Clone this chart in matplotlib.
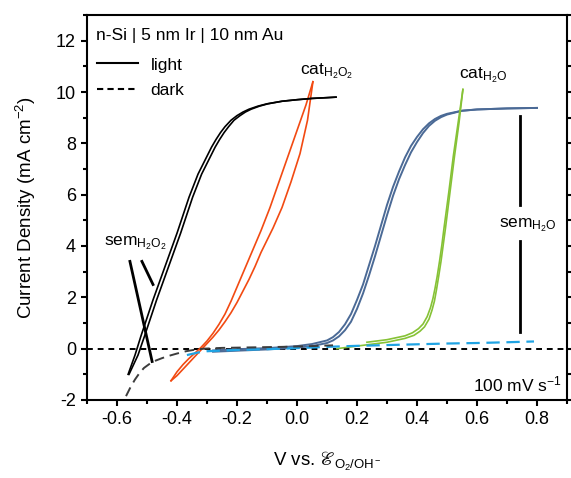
import numpy as np
import matplotlib
matplotlib.use("Agg")
import matplotlib.pyplot as plt

plt.rcParams["font.family"] = ["Liberation Sans", "DejaVu Sans"]
plt.rcParams["mathtext.fontset"] = "custom"
plt.rcParams["mathtext.rm"] = "Liberation Sans"
plt.rcParams["mathtext.it"] = "Liberation Sans:italic"
plt.rcParams["mathtext.bf"] = "Liberation Sans:bold"
plt.rcParams["mathtext.fallback"] = "stix"
plt.rcParams["axes.unicode_minus"] = False

# light, H2O2 (black, two sweep branches)
h2o2_light_fwd_x = [-0.563, -0.54, -0.52, -0.50, -0.48, -0.46, -0.44, -0.42, -0.40, -0.38,
                    -0.36, -0.345, -0.33, -0.315, -0.30, -0.285, -0.27, -0.255, -0.24, -0.22,
                    -0.20, -0.18, -0.16, -0.13, -0.10, -0.05, 0.00, 0.05, 0.10, 0.13]
h2o2_light_fwd_y = [-1.0, -0.25, 0.5, 1.2, 1.9, 2.55, 3.2, 3.85, 4.5, 5.2,
                    5.9, 6.35, 6.8, 7.15, 7.5, 7.85, 8.15, 8.42, 8.65, 8.9,
                    9.08, 9.22, 9.33, 9.45, 9.54, 9.64, 9.7, 9.75, 9.78, 9.8]
h2o2_light_rev_x = [-0.56, -0.53, -0.508, -0.488, -0.468, -0.448, -0.428, -0.408, -0.388, -0.368,
                    -0.348, -0.333, -0.318, -0.303, -0.288, -0.273, -0.258, -0.243, -0.228, -0.21,
                    -0.19, -0.172, -0.153, -0.125, -0.097, -0.05, 0.00, 0.05, 0.10, 0.13]
h2o2_light_rev_y = [-1.0, -0.25, 0.5, 1.2, 1.9, 2.55, 3.2, 3.85, 4.5, 5.2,
                    5.9, 6.35, 6.8, 7.15, 7.5, 7.85, 8.15, 8.42, 8.65, 8.9,
                    9.08, 9.22, 9.33, 9.45, 9.54, 9.64, 9.7, 9.75, 9.78, 9.8]

# dark, H2O2 (grey dashed)
h2o2_dark_x = [-0.57, -0.555, -0.54, -0.525, -0.51, -0.49, -0.47, -0.45, -0.43, -0.40,
               -0.37, -0.34, -0.31, -0.25, -0.15, -0.05, 0.05, 0.12]
h2o2_dark_y = [-1.85, -1.5, -1.2, -0.95, -0.75, -0.58, -0.46, -0.37, -0.29, -0.19,
               -0.1, -0.04, 0.0, 0.03, 0.05, 0.07, 0.1, 0.13]

# cat H2O2 (orange loop)
cat_h2o2_a_x = [-0.42, -0.40, -0.38, -0.36, -0.34, -0.32, -0.30, -0.28, -0.26, -0.24,
                -0.22, -0.20, -0.18, -0.16, -0.14, -0.12, -0.09, -0.06, -0.03, 0.00,
                0.03, 0.053]
cat_h2o2_a_y = [-1.25, -0.9, -0.62, -0.38, -0.17, 0.05, 0.3, 0.6, 0.95, 1.35,
                1.85, 2.4, 2.95, 3.5, 4.05, 4.6, 5.5, 6.5, 7.5, 8.5,
                9.5, 10.4]
cat_h2o2_b_x = [-0.42, -0.40, -0.38, -0.36, -0.34, -0.32, -0.30, -0.28, -0.26, -0.24,
                -0.22, -0.20, -0.18, -0.16, -0.14, -0.12, -0.08, -0.05, -0.02, 0.01,
                0.035, 0.053]
cat_h2o2_b_y = [-1.25, -1.05, -0.8, -0.55, -0.3, -0.05, 0.2, 0.45, 0.73, 1.05,
                1.4, 1.8, 2.25, 2.7, 3.2, 3.75, 4.7, 5.5, 6.5, 7.6,
                8.9, 10.4]

# light, H2O (blue, two sweep branches)
h2o_light_fwd_x = [-0.28, -0.20, -0.10, 0.00, 0.05, 0.10, 0.12, 0.14, 0.16, 0.18,
                   0.20, 0.22, 0.24, 0.26, 0.28, 0.30, 0.32, 0.34, 0.36, 0.38,
                   0.40, 0.42, 0.44, 0.46, 0.48, 0.50, 0.55, 0.60, 0.70, 0.80]
h2o_light_fwd_y = [-0.07, -0.02, 0.02, 0.1, 0.18, 0.32, 0.45, 0.65, 0.95, 1.35,
                   1.9, 2.5, 3.25, 4.0, 4.8, 5.6, 6.3, 6.9, 7.45, 7.9,
                   8.25, 8.55, 8.78, 8.95, 9.07, 9.15, 9.27, 9.32, 9.36, 9.38]
h2o_light_rev_x = [-0.28, -0.20, -0.10, 0.00, 0.05, 0.10, 0.12, 0.14, 0.16, 0.18,
                   0.20, 0.22, 0.24, 0.26, 0.28, 0.30, 0.32, 0.34, 0.36, 0.38,
                   0.40, 0.42, 0.44, 0.46, 0.48, 0.50, 0.55, 0.60, 0.70, 0.80]
h2o_light_rev_y = [-0.12, -0.08, -0.03, 0.04, 0.1, 0.22, 0.32, 0.48, 0.72, 1.05,
                   1.55, 2.15, 2.85, 3.6, 4.4, 5.2, 5.95, 6.6, 7.15, 7.65,
                   8.05, 8.4, 8.68, 8.88, 9.02, 9.12, 9.27, 9.32, 9.36, 9.38]

# dark, H2O (light blue dashed)
h2o_dark_x = [-0.367, -0.33, -0.30, -0.20, -0.10, 0.00, 0.10, 0.20, 0.30, 0.40,
              0.50, 0.60, 0.70, 0.79]
h2o_dark_y = [-0.25, -0.15, -0.1, -0.05, -0.02, 0.02, 0.07, 0.11, 0.14, 0.17,
              0.2, 0.22, 0.25, 0.28]

# cat H2O (green, two branches)
cat_h2o_a_x = [0.133, 0.20, 0.30, 0.36, 0.39, 0.41, 0.425, 0.44, 0.45, 0.458,
               0.465, 0.472, 0.48, 0.4875, 0.495, 0.51, 0.525, 0.54, 0.553]
cat_h2o_a_y = [0.0, 0.1, 0.25, 0.4, 0.52, 0.68, 0.85, 1.15, 1.5, 1.85,
               2.3, 2.8, 3.4, 4.05, 4.7, 6.1, 7.5, 8.8, 10.1]
cat_h2o_b_x = [0.233, 0.30, 0.36, 0.385, 0.405, 0.42, 0.434, 0.445, 0.453,
               0.46, 0.467, 0.475, 0.483, 0.49, 0.506, 0.521, 0.537, 0.553]
cat_h2o_b_y = [0.25, 0.35, 0.5, 0.62, 0.78, 0.96, 1.25, 1.6, 1.95,
               2.35, 2.8, 3.4, 4.05, 4.7, 6.1, 7.5, 8.8, 10.1]

# annotation segments
sem_h2o2_long_x, sem_h2o2_long_y = [-0.557, -0.483], [3.4, -0.5]
sem_h2o2_short_x, sem_h2o2_short_y = [-0.517, -0.48], [3.4, 2.5]
sem_h2o_x = 0.743
sem_h2o_upper_y = [9.07, 5.6]
sem_h2o_lower_y = [4.2, 0.66]

BLACK = "#000000"
ORANGE = "#f24a12"
BLUE = "#4b6a96"
GREEN = "#86c236"
LBLUE = "#1fa3e3"
GREY = "#3c3c3c"

fig = plt.figure(figsize=(5.71, 4.78), dpi=100)
ax = fig.add_axes([0.1524, 0.1632, 0.8406, 0.8054])

ax.axhline(0, color="black", lw=1.4, ls=(0, (3, 2.5)), zorder=1)

ax.plot(h2o_dark_x, h2o_dark_y, color=LBLUE, lw=1.6, ls=(0, (6, 3)), zorder=3)
ax.plot(h2o_light_fwd_x, h2o_light_fwd_y, color=BLUE, lw=1.4, zorder=2)
ax.plot(h2o_light_rev_x, h2o_light_rev_y, color=BLUE, lw=1.4, zorder=2)
ax.plot(cat_h2o_a_x, cat_h2o_a_y, color=GREEN, lw=1.2, zorder=2)
ax.plot(cat_h2o_b_x, cat_h2o_b_y, color=GREEN, lw=1.2, zorder=2)
ax.plot(h2o2_dark_x, h2o2_dark_y, color=GREY, lw=1.4, ls=(0, (5, 3)), zorder=3)
ax.plot(cat_h2o2_a_x, cat_h2o2_a_y, color=ORANGE, lw=1.2, zorder=2)
ax.plot(cat_h2o2_b_x, cat_h2o2_b_y, color=ORANGE, lw=1.2, zorder=2)
ax.plot(h2o2_light_fwd_x, h2o2_light_fwd_y, color=BLACK, lw=1.2, zorder=2)
ax.plot(h2o2_light_rev_x, h2o2_light_rev_y, color=BLACK, lw=1.2, zorder=2)

# sem markers
ax.plot(sem_h2o2_long_x, sem_h2o2_long_y, color="black", lw=2)
ax.plot(sem_h2o2_short_x, sem_h2o2_short_y, color="black", lw=2)
ax.plot([sem_h2o_x] * 2, sem_h2o_upper_y, color="black", lw=2)
ax.plot([sem_h2o_x] * 2, sem_h2o_lower_y, color="black", lw=2)

fs = 12.5
ax.text(0.1, 10.8, r"cat$_{\mathrm{H_2O_2}}$", fontsize=fs, ha="center", va="center")
ax.text(0.62, 10.65, r"cat$_{\mathrm{H_2O}}$", fontsize=fs, ha="center", va="center")
ax.text(-0.54, 4.1, r"sem$_{\mathrm{H_2O_2}}$", fontsize=fs, ha="center", va="center")
ax.text(0.77, 4.8, r"sem$_{\mathrm{H_2O}}$", fontsize=fs, ha="center", va="center")
ax.text(0.019, 0.948, "n-Si | 5 nm Ir | 10 nm Au", transform=ax.transAxes,
        fontsize=fs, ha="left", va="center")
ax.text(0.99, 0.04, r"100 mV s$^{-1}$", transform=ax.transAxes,
        fontsize=fs, ha="right", va="center")

# legend
ax.plot([], [], color="black", lw=1.5, label="light")
ax.plot([], [], color="black", lw=1.5, ls=(0, (3, 2)), label="dark")
ax.legend(loc="upper left", bbox_to_anchor=(0.02, 0.89), frameon=False, fontsize=fs,
          handlelength=2.4, handletextpad=0.7, labelspacing=0.62, borderpad=0,
          borderaxespad=0)

ax.set_xlim(-0.7, 0.9)
ax.set_ylim(-2, 13)
xt = np.arange(-0.6, 0.81, 0.2)
ax.set_xticks(xt)
ax.set_xticks(np.arange(-0.7, 0.91, 0.1), minor=True)
ax.set_yticks(np.arange(-2, 12.1, 2))
ax.set_yticks(np.arange(-2, 13.1, 1), minor=True)
ax.set_xticklabels([f"{v:.1f}" for v in xt])
ax.tick_params(which="both", direction="out", width=1.5, labelsize=13,
               top=False, right=True)
ax.tick_params(which="major", length=4.5)
ax.tick_params(which="minor", length=3)
for s in ax.spines.values():
    s.set_linewidth(1.5)

ax.set_xlabel(r"V vs. $\mathrm{ℰ}_{\mathrm{O_2/OH^-}}$", fontsize=13.5, labelpad=16)
ax.set_ylabel(r"Current Density (mA cm$^{-2}$)", fontsize=13.5, labelpad=13)

fig.savefig("out.png", dpi=100)
